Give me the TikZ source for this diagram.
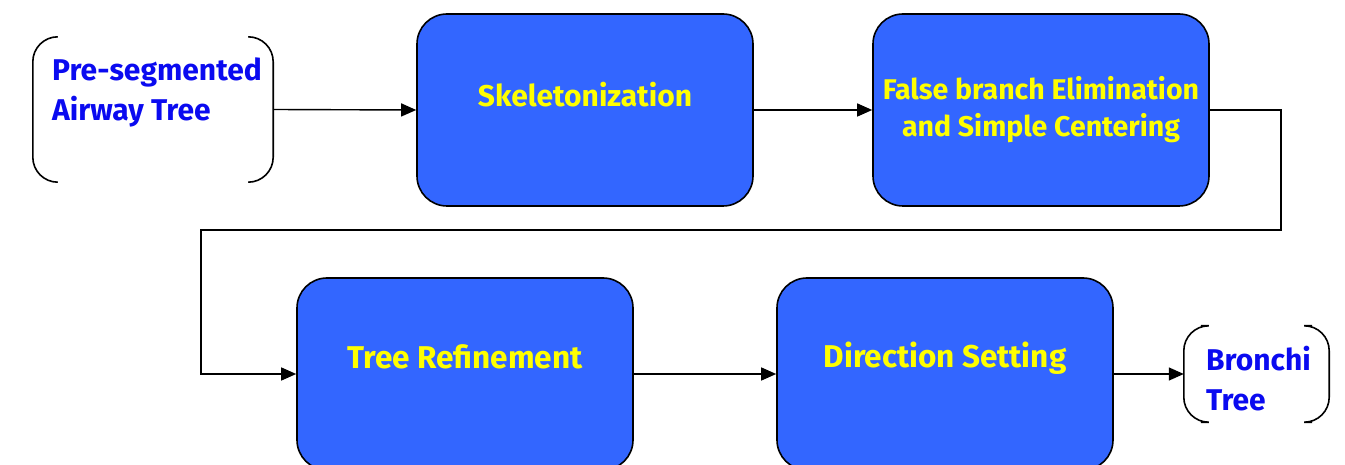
\documentclass[tikz,border=0pt]{standalone}
\usepackage{fontspec}
\setmainfont{Fira Sans}
\usetikzlibrary{arrows.meta}
\definecolor{boxblue}{HTML}{3366FF}
\definecolor{txtyellow}{HTML}{FFFF00}
\definecolor{txtblue}{HTML}{0A0AF0}
\tikzset{
  stepbox/.style={draw=black, line width=1.6pt, fill=boxblue, rounded corners=30pt,
    minimum width=336pt, minimum height=192pt, inner sep=0pt},
  ytext/.style={text=txtyellow, font=\fontsize{30}{37}\selectfont\bfseries, align=center, inner sep=0pt},
  btext/.style={text=txtblue, font=\fontsize{30}{40}\selectfont\bfseries, align=left, inner sep=0pt, anchor=north west},
  termnode/.style={inner sep=0pt},
  bracket/.style={draw=black, line width=1.6pt, rounded corners=25pt},
  arr/.style={draw=black, line width=1.4pt, -{Triangle[length=15pt,width=13pt]}},
}
\begin{document}
\begin{tikzpicture}[x=1pt,y=-1pt]
\useasboundingbox (0,0) rectangle (1345,465);
\clip (0,0) rectangle (1345,465);
% input terminal
\node[termnode, minimum width=240pt, minimum height=145pt] (in) at (153,109.5) {};
\draw[bracket] ([xshift=25pt]in.north west) -- (in.north west) -- (in.south west) -- ([xshift=25pt]in.south west);
\draw[bracket] ([xshift=-25pt]in.north east) -- (in.north east) -- (in.south east) -- ([xshift=-25pt]in.south east);
\node[btext] (intext) at (52,58) {Pre-segmented\\Airway Tree};
% output terminal
\node[termnode, minimum width=145pt, minimum height=96pt] (out) at (1256.5,374) {};
\draw[bracket] ([xshift=17pt]out.north west) -- (out.north west) -- (out.south west) -- ([xshift=17pt]out.south west);
\draw[bracket] ([xshift=-17pt]out.north east) -- (out.north east) -- (out.south east) -- ([xshift=-17pt]out.south east);
\node[btext] (outtext) at (1206,346) {Bronchi\\Tree};
% process boxes
\node[stepbox] (sk) at (585,110) {};
\node[ytext] (sktext) at (585,95) {Skeletonization};
\node[stepbox] (fb) at (1041,110) {};
\node[ytext, font=\fontsize{28.5}{37}\selectfont\bfseries] (fbtext) at (1041,110) {False branch Elimination\\and Simple Centering};
\node[stepbox] (tr) at (465,374) {};
\node[ytext, font=\fontsize{31.5}{37}\selectfont\bfseries] (trtext) at (465,357) {Tree Refinement};
\node[stepbox] (ds) at (945,374) {};
\node[ytext, font=\fontsize{31.5}{37}\selectfont\bfseries] (dstext) at (945,358) {Direction Setting};
% connectors
\coordinate (c1) at (1281,110);
\coordinate (c2) at (1281,230);
\coordinate (c3) at (201,230);
\coordinate (c4) at (201,374);
\draw[arr] (in.east) -- (sk.west);
\draw[arr] (sk.east) -- (fb.west);
\draw[arr] (fb.east) -- (c1) -- (c2) -- (c3) -- (c4) -- (tr.west);
\draw[arr] (tr.east) -- (ds.west);
\draw[arr] (ds.east) -- (out.west);
\end{tikzpicture}
\end{document}
